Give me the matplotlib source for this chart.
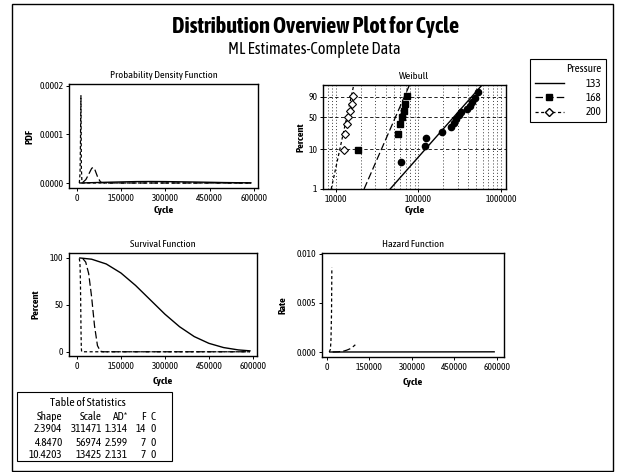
import numpy as np
import matplotlib
matplotlib.use("Agg")
import matplotlib.pyplot as plt
import matplotlib.ticker as tkr
import matplotlib.font_manager as fm
from matplotlib.lines import Line2D
from matplotlib.patches import Rectangle

# the original uses a narrow sans face; look for a condensed family that
# has both a regular and a bold weight
fams = {}
for f in fm.fontManager.ttflist:
    if f.stretch in ("condensed", "semi-condensed", "extra-condensed") \
            or "Narrow" in f.name or "Condensed" in f.name:
        w = f.weight if isinstance(f.weight, (int, float)) else fm.weight_dict.get(f.weight, 400)
        fams.setdefault((f.name, f.stretch), set()).add(int(w))
order = {"semi-condensed": 0, "condensed": 1}
good = [k for k, ws in fams.items() if min(ws) <= 500 and max(ws) >= 650]
good.sort(key=lambda k: (order.get(k[1], 2), k[0]))
if not good:
    good = sorted(fams, key=lambda k: (order.get(k[1], 2), k[0]))
if good:
    plt.rcParams['font.family'] = [good[0][0], 'Liberation Sans', 'DejaVu Sans']
    plt.rcParams['font.stretch'] = good[0][1]
    FS = 1.0
else:
    plt.rcParams['font.family'] = ['Liberation Sans', 'DejaVu Sans']
    FS = 0.88

# groups and fit table
groups = ["133", "168", "200"]
shapes = ["2.3904", "4.8470", "10.4203"]
scales = ["311471", "56974", "13425"]
ad_stats = ["1.314", "2.599", "2.131"]
n_fail = ["14", "7", "7"]
n_cens = ["0", "0", "0"]

# probability plot points (median ranks, %)
pct_133 = [4.86, 11.81, 18.75, 25.69, 32.64, 39.58, 46.53, 53.47, 60.42, 67.36, 74.31, 81.25, 88.19, 95.14]
cyc_133 = [61800, 120000, 125000, 194500, 249800, 267700, 287000, 307600, 329600, 389000, 417400, 447300, 479400, 521200]
pct_7 = [9.46, 22.97, 36.49, 50.0, 63.51, 77.03, 90.54]
cyc_168 = [18600, 56600, 60700, 63700, 66500, 69700, 72200]
cyc_200 = [12600, 13100, 13600, 14100, 14800, 15500, 16300]

# fitted lines on probability plot (ends at 1% and 99%)
fit_pct = [1, 99]
fit_133 = [45500, 590000]
fit_168 = [22000, 78000]
fit_200 = [8800, 16500]

# pdf curves
pdf_x_133 = [10000, 100000, 200000, 250000, 300000, 400000, 500000, 590000]
pdf_y_133 = [0.0, 1.5e-6, 2.9e-6, 3.1e-6, 2.9e-6, 2.0e-6, 0.9e-6, 0.3e-6]
pdf_x_168 = [20000, 30000, 40000, 50000, 55000, 60000, 70000, 80000, 90000, 590000]
pdf_y_168 = [1.5e-6, 6.9e-6, 1.82e-5, 3.03e-5, 3.2e-5, 2.87e-5, 1.25e-5, 1.8e-6, 0.0, 0.0]
pdf_x_200 = [8000, 10500, 12000, 13500, 15000, 17000, 590000]
pdf_y_200 = [0.0, 0.00002, 0.00009, 0.000180, 0.00003, 0.0, 0.0]

# survival curves (%)
sur_x_133 = [10000, 50000, 100000, 150000, 200000, 250000, 300000, 350000, 400000, 450000, 500000, 550000, 590000]
sur_y_133 = [100.0, 98.7, 93.6, 84.0, 70.7, 55.4, 40.1, 26.7, 16.2, 9.0, 4.5, 2.0, 1.0]
sur_x_168 = [20000, 30000, 40000, 50000, 60000, 70000, 80000, 90000, 590000]
sur_y_168 = [99.4, 95.6, 83.5, 58.8, 27.7, 6.6, 0.6, 0.0, 0.0]
sur_x_200 = [8000, 10000, 11000, 12000, 13000, 14000, 15000, 16000, 17000, 590000]
sur_y_200 = [99.5, 95.5, 88.2, 73.3, 48.9, 21.3, 4.2, 0.2, 0.0, 0.0]

# hazard curves
haz_x_133 = [10000, 100000, 200000, 300000, 400000, 500000, 590000]
haz_y_133 = [0.0, 1.6e-6, 4.1e-6, 7.3e-6, 1.09e-5, 1.48e-5, 1.87e-5]
haz_x_168 = [20000, 40000, 60000, 70000, 80000, 90000, 100000]
haz_y_168 = [0.000002, 0.00002, 0.00010, 0.00019, 0.00031, 0.00049, 0.00074]
haz_x_200 = [8000, 12000, 14000, 16000, 17200]
haz_y_200 = [0.0, 0.00027, 0.00115, 0.0040, 0.0086]

cycle_ticks = [0, 150000, 300000, 450000, 600000]

W, H = 617, 472
fig = plt.figure(figsize=(W / 100, H / 100), dpi=100)


def box(l, t, r, b):
    return [l / W, 1 - b / H, (r - l) / W, (b - t) / H]


line_styles = {
    "133": dict(color="black", lw=1.0, ls="-"),
    "168": dict(color="black", lw=0.9, ls=(0, (6, 2.5))),
    "200": dict(color="black", lw=0.9, ls=(0, (2.5, 2))),
}


def style(ax, title, ylabel, ylab_x, xlab_y):
    ax.set_title(title, fontsize=7.5 * FS, pad=4)
    ax.tick_params(which="major", direction="out", length=2.5, width=0.7,
                   labelsize=6.8 * FS, pad=1.5)
    for s in ax.spines.values():
        s.set_linewidth(1.0)
    ax.set_xlabel("Cycle", fontsize=7.5 * FS, fontweight="bold")
    ax.set_ylabel(ylabel, fontsize=7.5 * FS, fontweight="bold")
    ax.xaxis.set_label_coords(0.5, xlab_y)
    ax.yaxis.set_label_coords(ylab_x, 0.5)


# --- Probability density function
ax_pdf = fig.add_axes(box(69, 84, 258, 188))
ax_pdf.plot(pdf_x_133, pdf_y_133, **line_styles["133"])
ax_pdf.plot(pdf_x_168, pdf_y_168, **line_styles["168"])
ax_pdf.plot(pdf_x_200, pdf_y_200, **line_styles["200"])
ax_pdf.set_xlim(-27000, 614000)
ax_pdf.set_ylim(-0.0000103, 0.000204)
ax_pdf.set_xticks(cycle_ticks)
ax_pdf.set_yticks([0, 0.0001, 0.0002])
ax_pdf.yaxis.set_major_formatter(tkr.FormatStrFormatter("%.4f"))
style(ax_pdf, "Probability Density Function", "PDF", -0.18, -0.17)

# --- Weibull probability plot
ax_w = fig.add_axes(box(323, 85, 506, 189))


def wfwd(p):
    p = np.clip(np.asarray(p, dtype=float), 1e-6, 100 - 1e-6) / 100.0
    return np.log(-np.log(1 - p))


def winv(y):
    return 100.0 * (1 - np.exp(-np.exp(y)))


ax_w.set_xscale("log")
ax_w.set_yscale("function", functions=(wfwd, winv))
ax_w.plot(fit_133, fit_pct, **line_styles["133"])
ax_w.plot(fit_168, fit_pct, **line_styles["168"])
ax_w.plot(fit_200, fit_pct, **line_styles["200"])
ax_w.plot(cyc_133, pct_133, ls="none", marker="o", ms=4.5, color="black")
ax_w.plot(cyc_168, pct_7, ls="none", marker="s", ms=4, color="black")
ax_w.plot(cyc_200, pct_7, ls="none", marker="D", ms=4, mfc="white", mec="black", mew=0.8)
ax_w.set_xlim(7000, 1150000)
ax_w.set_ylim(1, 99)
ax_w.set_xticks([10000, 100000, 1000000])
ax_w.xaxis.set_major_formatter(tkr.FuncFormatter(lambda v, pos: "%d" % round(v)))
minor = [m * 10 ** e for e in (3, 4, 5) for m in range(2, 10) if 7000 <= m * 10 ** e <= 1100000]
ax_w.set_xticks(minor, minor=True)
ax_w.xaxis.set_minor_formatter(tkr.NullFormatter())
ax_w.tick_params(which="minor", length=0)
ax_w.set_yticks([1, 10, 50, 90])
ax_w.yaxis.set_major_formatter(tkr.FuncFormatter(lambda v, pos: "%d" % round(v)))
ax_w.yaxis.set_minor_locator(tkr.NullLocator())
ax_w.grid(which="both", axis="x", color="black", lw=0.5, ls=(0, (1.5, 3)))
ax_w.grid(which="major", axis="y", color="black", lw=0.6, ls=(0, (4, 3)))
style(ax_w, "Weibull", "Percent", -0.093, -0.16)

# --- Survival function
ax_s = fig.add_axes(box(69, 253, 257, 356))
ax_s.plot(sur_x_133, sur_y_133, **line_styles["133"])
ax_s.plot(sur_x_168, sur_y_168, **line_styles["168"])
ax_s.plot(sur_x_200, sur_y_200, **line_styles["200"])
ax_s.set_xlim(-27000, 614000)
ax_s.set_ylim(-4.5, 105.3)
ax_s.set_xticks(cycle_ticks)
ax_s.set_yticks([0, 50, 100])
style(ax_s, "Survival Function", "Percent", -0.15, -0.2)

# --- Hazard function
ax_h = fig.add_axes(box(322, 253, 504, 357))
ax_h.plot(haz_x_133, haz_y_133, **line_styles["133"])
ax_h.plot(haz_x_168, haz_y_168, **line_styles["168"])
ax_h.plot(haz_x_200, haz_y_200, **line_styles["200"])
ax_h.set_xlim(-17600, 624700)
ax_h.set_ylim(-0.00051, 0.0101)
ax_h.set_xticks(cycle_ticks)
ax_h.set_yticks([0, 0.005, 0.010])
ax_h.yaxis.set_major_formatter(tkr.FormatStrFormatter("%.3f"))
style(ax_h, "Hazard Function", "Rate", -0.19, -0.2)

# --- titles
fig.text(316 / W, 1 - 27 / H, "Distribution Overview Plot for Cycle",
         ha="center", va="center", fontsize=16 * FS, fontweight="bold")
fig.text(314 / W, 1 - 49 / H, "ML Estimates-Complete Data",
         ha="center", va="center", fontsize=11.8 * FS)

# --- legend
handles = [
    Line2D([], [], **line_styles["133"]),
    Line2D([], [], marker="s", ms=4, **line_styles["168"]),
    Line2D([], [], marker="D", ms=4, mfc="white", mec="black", **line_styles["200"]),
]
leg = fig.legend(handles, groups, title="Pressure", loc="upper right",
                 bbox_to_anchor=(606 / W, 1 - 59 / H), borderaxespad=0,
                 fontsize=8 * FS, title_fontsize=8 * FS, alignment="right",
                 handlelength=2.6, handletextpad=2.0, labelspacing=0.3,
                 borderpad=0.4, fancybox=False, edgecolor="black", framealpha=1)
leg.get_frame().set_linewidth(0.8)

# --- table of statistics
fig.add_artist(Rectangle((17 / W, 1 - 461 / H), 155 / W, 69 / H,
                         transform=fig.transFigure, fill=False, lw=0.8, ec="black"))
fig.text(88 / W, 1 - 403 / H, "Table of Statistics", ha="center", va="center",
         fontsize=8.5 * FS)
col_right = [62, 102, 128, 146, 156]
headers = ["Shape", "Scale", "AD*", "F", "C"]
row_y = [429, 442, 455]
for xr, head in zip(col_right, headers):
    fig.text(xr / W, 1 - 416 / H, head, ha="right", va="center", fontsize=8 * FS)
for i, y in enumerate(row_y):
    vals = [shapes[i], scales[i], ad_stats[i], n_fail[i], n_cens[i]]
    for xr, v in zip(col_right, vals):
        fig.text(xr / W, 1 - y / H, v, ha="right", va="center", fontsize=8 * FS)

# outer frame
fig.add_artist(Rectangle((12 / W, 1 - 471 / H), 601 / W, 467 / H,
                         transform=fig.transFigure, fill=False, lw=1.0, ec="black"))

fig.savefig("out.png", dpi=100)
